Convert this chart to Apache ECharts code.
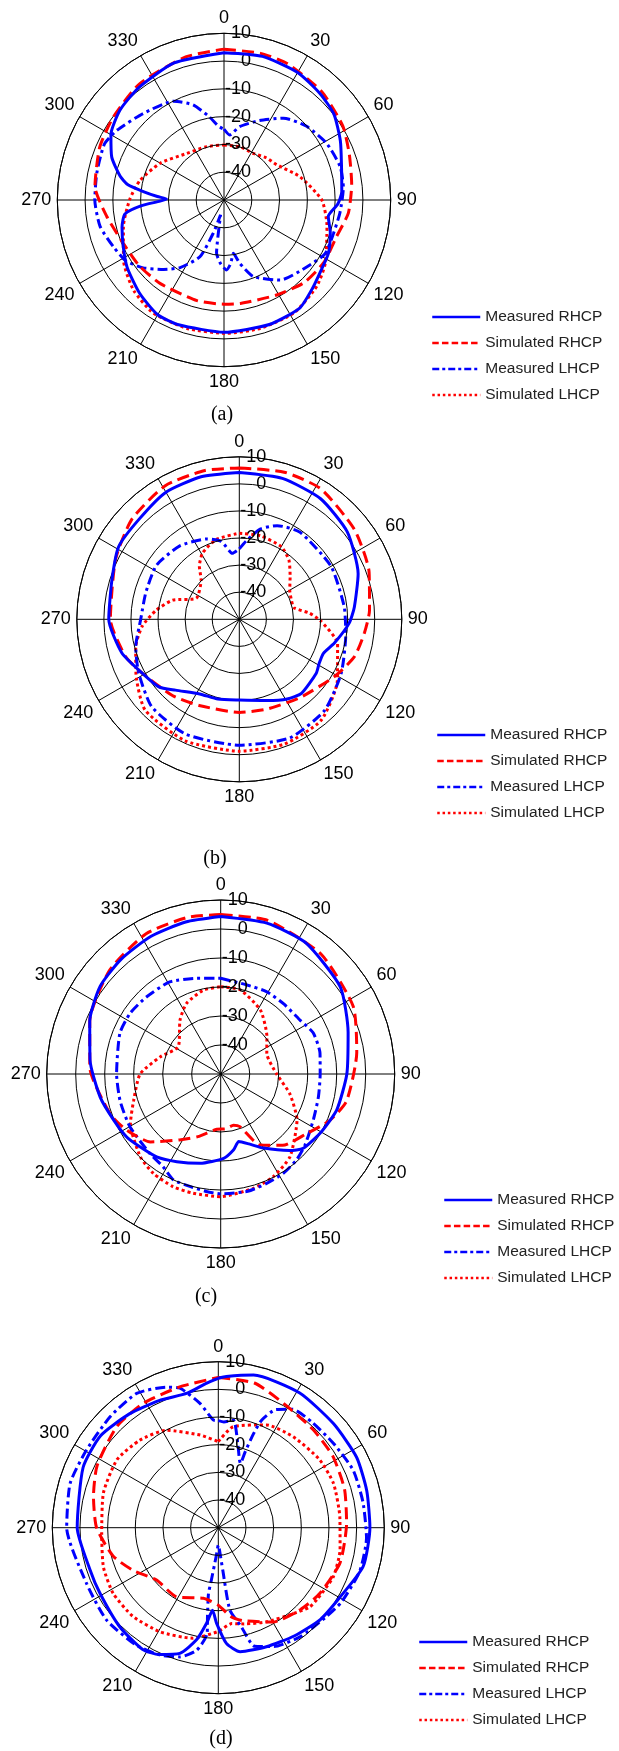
<!DOCTYPE html>
<html><head><meta charset="utf-8">
<script src="https://cdn.jsdelivr.net/npm/echarts@6/dist/echarts.min.js"></script>
<style>html,body{margin:0;padding:0;background:#fff}#c{width:619px;height:1751px}</style>
</head><body><div id="c"></div>
<script>
// ---- data: [angle (deg), level (dB)] ----
const SERIES_NAMES = ['Measured RHCP','Simulated RHCP','Measured LHCP','Simulated LHCP'];
const ANGLE_TICKS = [0,30,60,90,120,150,180,210,240,270,300,330];
const RADIAL_TICKS = [-40,-30,-20,-10,0,10];
const CAPTIONS = ['(a)','(b)','(c)','(d)'];

const A_MEAS_RHCP = [[0,3],[15,3.5],[30,3],[42,1.6],[52,0.2],[63,-3],[74,-6],[86,-7.5],[92,-9],[99,-12],[107,-10],[117,-7.8],[125,-7],[135,-5],[145,-2.5],[160,-2.3],[180,-2.4],[200,-2.2],[210,-2.3],[222,-4.7],[235,-7.5],[245,-10],[255,-12],[262,-14],[266,-20],[269,-27],[271,-29.3],[273,-26],[276,-20.8],[279,-15],[283,-11.6],[291,-6.7],[300,-3],[311,-0.5],[323,0.8],[340,2.5],[360,3]];
const A_SIM_RHCP = [[0,4.3],[14,4.4],[25,4.1],[42,2.5],[58,0.4],[70,-2],[83,-3.7],[96,-5],[108,-7.4],[122,-7.6],[136,-8.6],[151,-10.9],[171,-12.3],[180,-12.5],[195,-12.5],[217,-12.2],[232,-11.4],[247,-10.5],[262,-7.4],[276,-3.3],[293,-1.4],[307,-0.2],[324,1.7],[345,3.3],[360,4.3]];
const A_MEAS_LHCP = [[0,-24.5],[5,-26.5],[12,-23],[24,-18.7],[36,-13.6],[48,-10.2],[61,-7.8],[74,-6.5],[84,-6.8],[96,-8],[107,-8.8],[118,-8.8],[129,-11.7],[145,-14.8],[159,-20.5],[166,-26.5],[170,-30.5],[174,-27],[178,-24.8],[183,-27],[188,-30.7],[193,-44.5],[198,-37.4],[203,-27.8],[213,-21],[221,-16.9],[230,-12],[238,-8.5],[247,-6.8],[258,-4.4],[270,-3.5],[282,-3.2],[295,-2.5],[303,-4],[317,-7.4],[333,-10.1],[342,-14],[350,-19.6],[356,-23.5],[360,-24.5]];
const A_SIM_LHCP = [[0,-30.2],[17,-30],[32,-30.2],[45,-28.5],[56,-27.2],[73,-21.4],[90,-14.8],[104,-11.8],[122,-7],[133,-4.4],[148,-2.2],[164,-2],[179,-2],[196,-1.9],[212,-2],[225,-4],[239,-7.8],[255,-12.5],[270,-16],[283,-18.9],[300,-23.5],[321,-28.5],[342,-29.8],[360,-30.2]];

const B_MEAS_RHCP = [[0,4.2],[17,4.4],[34,3.7],[51,1.3],[69,-3],[84,-7.3],[92,-9.4],[104,-13.8],[112,-16.5],[119,-16.3],[125,-15.3],[140,-14.3],[149,-15.7],[161,-18.3],[180,-20.2],[195,-19.5],[208,-18.8],[222,-14.8],[230,-11.2],[241,-9],[254,-4.9],[270,-1.8],[287,-0.8],[301,2],[315,2.3],[330,4.2],[345,4.5],[360,4.2]];
const B_SIM_RHCP = [[0,5.9],[17,6.8],[32,6.8],[52,3.9],[70,1],[86,-1.8],[96,-3.5],[108,-5.3],[121,-9],[142,-13.4],[163,-15.3],[180,-15.6],[205,-14.9],[221,-12.6],[241,-9],[252,-5.8],[270,-2.4],[296,0.8],[313,4.2],[331,6.4],[347,6.4],[360,5.9]];
const B_MEAS_LHCP = [[0,-24],[5,-21],[13,-15.8],[22,-12.7],[35,-10.8],[60,-10.9],[83,-11],[98,-10.3],[118,-7.4],[137,-3.9],[157,-2.4],[180,-3.5],[205,-3.2],[225,-4.3],[242,-7.9],[255,-10.4],[270,-13.6],[286,-14.1],[303,-13.5],[321,-15.1],[338,-18],[347,-20.5],[354,-25.5],[360,-24]];
const B_SIM_LHCP = [[0,-18.2],[14,-18.2],[30,-19],[40,-21.5],[50,-25.5],[60,-28.5],[70,-29.5],[78,-29.4],[85,-24],[91,-20],[104,-12.6],[122,-7.3],[141,-2],[160,-1],[180,-1.3],[204,-0.9],[226,-1.7],[242,-6.8],[255,-10.4],[266,-14.1],[276,-19],[286,-24.4],[296,-32.3],[316,-29.7],[323,-25.5],[331,-22],[344,-19.3],[360,-18.2]];

const C_MEAS_RHCP = [[0,4.3],[17,4.4],[33,3.9],[54,1],[72,-3.8],[90,-6.5],[107,-8.1],[120,-10],[132,-11.7],[138,-14.5],[150,-20.5],[158,-24],[165,-25.9],[170.5,-23.4],[178,-20.9],[193,-18.4],[206.6,-16.2],[217.7,-13.9],[228,-12.5],[236,-11],[247,-9.8],[259,-7.7],[276,-4.7],[292,-1.3],[306,1.4],[319,2.4],[333,3.2],[347,3.8],[360,4.3]];
const C_SIM_RHCP = [[0,5],[17,5.4],[40,3.9],[63,1.3],[81,-2.5],[102,-5.6],[113,-9.1],[125,-14],[139,-17.4],[151,-22],[160,-30.7],[166,-31.8],[175,-31],[184,-30.9],[200,-27],[212,-23.2],[226,-16.3],[239,-12.3],[250,-9.5],[273,-4.8],[292,-1.3],[313,2.4],[332,4.8],[348,5.2],[360,5]];
const C_MEAS_LHCP = [[0,-17],[16,-18],[29,-17.5],[42,-17.5],[56,-16.9],[66,-15.1],[78,-15],[90,-15.7],[103,-15.4],[116,-14.4],[130,-12],[138.5,-10.5],[148,-9.5],[157,-9.1],[167,-8.5],[180,-8.7],[187,-9.2],[195,-9.8],[204,-10],[212,-12.4],[222,-13.3],[240,-13.8],[255,-14.1],[270,-14.1],[292,-12.5],[304,-12.4],[316,-13.1],[331,-13.7],[346,-16],[360,-17]];
const C_SIM_LHCP = [[0,-19.9],[13,-20.2],[32,-24.1],[51,-29.5],[66,-32.6],[90,-30.7],[106,-25.2],[121,-19.3],[140,-12.8],[153,-10.2],[164,-9],[180,-7.7],[193,-7.8],[203,-7.8],[214,-8.6],[224,-10.2],[241,-14.4],[253,-18.6],[270,-22.2],[286,-28.4],[303,-32.6],[323,-26.7],[334,-23],[348,-20.5],[360,-19.9]];

const D_MEAS_RHCP = [[0,4],[3,4.7],[13,6.6],[31,6.9],[48,6.1],[63,6.1],[76,5.3],[90,4.8],[105,4.2],[120,0.6],[132,-0.4],[145,-2.2],[158,-3.6],[170,-4.5],[176,-8.1],[181,-15.4],[184,-20.1],[187,-15.2],[191,-8.7],[197,-2.5],[205,0.6],[212,1.8],[225,0.5],[241,-1.1],[252,-1.2],[270,1],[294,3.5],[308,4],[322,2.2],[335,0.7],[347,-0.1],[355,2.3],[360,4]];
const D_SIM_RHCP = [[0,4.3],[14,3.9],[28,0.7],[44,-0.7],[58,-1.2],[73,-2.3],[88,-3.6],[106,-4.2],[123,-6.3],[135,-8.1],[150,-10.6],[165,-15.2],[172,-17.6],[180,-22],[192,-23.9],[211,-20.8],[230,-20.7],[243,-15.7],[255,-10.6],[270,-6],[284,-3.5],[297,-0.8],[315,1.8],[329,2.5],[345,2.8],[360,4.3]];
const D_MEAS_LHCP = [[0,-11.3],[3,-11.7],[8,-10.7],[13,-18.7],[17,-24],[19,-25.4],[19.5,-21],[20.5,-14],[22,-8],[26,-2.5],[32,0.5],[42,1],[54,1.6],[67,3],[80,3.1],[94,3.7],[107,3.5],[121,2],[130,0.5],[143,-0.7],[155,-2.6],[163,-5.2],[167,-13.4],[172,-20],[174,-34.6],[177,-42],[180,-43.7],[184,-40],[187.8,-29.7],[188.5,-26],[187,-18],[186,-11.6],[190,-5],[196.5,-1.3],[204.6,0.6],[215,1.8],[230.4,2.4],[247,1.7],[270,4.8],[286.6,5.9],[300.5,5.3],[315.7,6],[328.7,6.8],[339.8,4.1],[344.6,2.3],[351.6,-4.6],[357.3,-11],[360,-11.3]];
const D_SIM_LHCP = [[0,-18.9],[8.4,-13.1],[25,-9],[39.5,-7.4],[56,-5.9],[69,-5.4],[85,-5.9],[100,-5.3],[113,-4.8],[126,-5.9],[131,-6.3],[139,-8.8],[153,-11.8],[165,-14],[172,-15],[180,-12.5],[193,-9],[209,-6.9],[224,-5.5],[238,-5.2],[251,-6.1],[267,-7.8],[287,-6.6],[304,-5.9],[318,-7.5],[332,-10.1],[349,-15.9],[360,-18.9]];

const PLOT_DATA = [
  [A_MEAS_RHCP, A_SIM_RHCP, A_MEAS_LHCP, A_SIM_LHCP],
  [B_MEAS_RHCP, B_SIM_RHCP, B_MEAS_LHCP, B_SIM_LHCP],
  [C_MEAS_RHCP, C_SIM_RHCP, C_MEAS_LHCP, C_SIM_LHCP],
  [D_MEAS_RHCP, D_SIM_RHCP, D_MEAS_LHCP, D_SIM_LHCP]
];

// ---- layout & style ----
const LAYOUT = [
  {center:[224,200], radius:166.7, legend:[431,309], caption:[222,415]},
  {center:[239.3,619.3], radius:162.5, legend:[436,727], caption:[215,859]},
  {center:[220.7,1074], radius:174, legend:[443,1192], caption:[206,1297]},
  {center:[218.3,1527.7], radius:166, legend:[418,1634], caption:[221,1739]}
];
const STYLES = [
  {color:'#0000ff', type:'solid', legendType:'solid'},
  {color:'#ff0000', type:[12,6], legendType:[6.5,3.2]},
  {color:'#0000ff', type:[10,4,3,4], legendType:[7,3,3,3]},
  {color:'#ff0000', type:[3,3], legendType:[2.5,2.8]}
];
const FONT = 'Liberation Sans, Arial, sans-serif';

const polar = [], angleAxis = [], radiusAxis = [], series = [], legend = [], graphics = [];
LAYOUT.forEach((L, p) => {
  polar.push({center: L.center, radius: L.radius});
  angleAxis.push({
    polarIndex: p, type: 'value', min: 0, max: 360, interval: 30,
    startAngle: 90, clockwise: true,
    axisLine: {show: true, lineStyle: {color: '#000', width: 1}},
    axisTick: {show: false},
    axisLabel: {show: true, margin: 6, color: '#000', fontFamily: FONT, fontSize: 18,
      formatter: v => ANGLE_TICKS.includes(v) ? String(v) : ''},
    splitLine: {show: true, lineStyle: {color: '#000', width: 1}}
  });
  radiusAxis.push({
    polarIndex: p, type: 'value', min: -50, max: 10, interval: 10,
    axisLine: {show: false}, axisTick: {show: false},
    axisLabel: {show: true, margin: -27, align: 'right', verticalAlign: 'middle',
      color: '#000', fontFamily: FONT, fontSize: 18,
      formatter: v => RADIAL_TICKS.includes(v) ? String(v) : ''},
    splitLine: {show: true, lineStyle: {color: '#000', width: 1}},
    z: 5
  });
  PLOT_DATA[p].forEach((arr, s) => {
    const st = STYLES[s];
    series.push({
      name: SERIES_NAMES[s], type: 'line', coordinateSystem: 'polar', polarIndex: p,
      data: arr.map(d => [d[1], d[0]]),
      symbol: 'none', smooth: 0.2, animation: false, silent: true,
      lineStyle: {color: st.color, width: 3, type: st.type, cap: 'butt'},
      itemStyle: {color: st.color},
      z: 3 + (3 - s)
    });
  });
  legend.push({
    orient: 'vertical', left: L.legend[0], top: L.legend[1], padding: 0,
    itemWidth: 48, itemHeight: 14, itemGap: 10, selectedMode: false,
    textStyle: {fontFamily: FONT, fontSize: 15.5, color: '#222', lineHeight: 14},
    itemStyle: {opacity: 0, color: 'rgba(0,0,0,0)', borderWidth: 0},
    data: SERIES_NAMES.map((n, s) => ({name: n,
      itemStyle: {opacity: 0, color: 'rgba(0,0,0,0)', borderWidth: 0},
      lineStyle: {color: STYLES[s].color, width: 2.5, type: STYLES[s].legendType, opacity: 1}}))
  });
  graphics.push({type: 'text', x: L.caption[0], y: L.caption[1],
    style: {text: CAPTIONS[p], fill: '#000', font: '20px "Liberation Serif", "Times New Roman", serif',
      align: 'center', verticalAlign: 'middle', textAlign: 'center', textVerticalAlign: 'middle'}});
});

const chart = echarts.init(document.getElementById('c'), null, {renderer: 'canvas'});
chart.setOption({
  animation: false, backgroundColor: '#fff',
  polar, angleAxis, radiusAxis, series, legend,
  graphic: {elements: graphics}
});
</script>
</body></html>
